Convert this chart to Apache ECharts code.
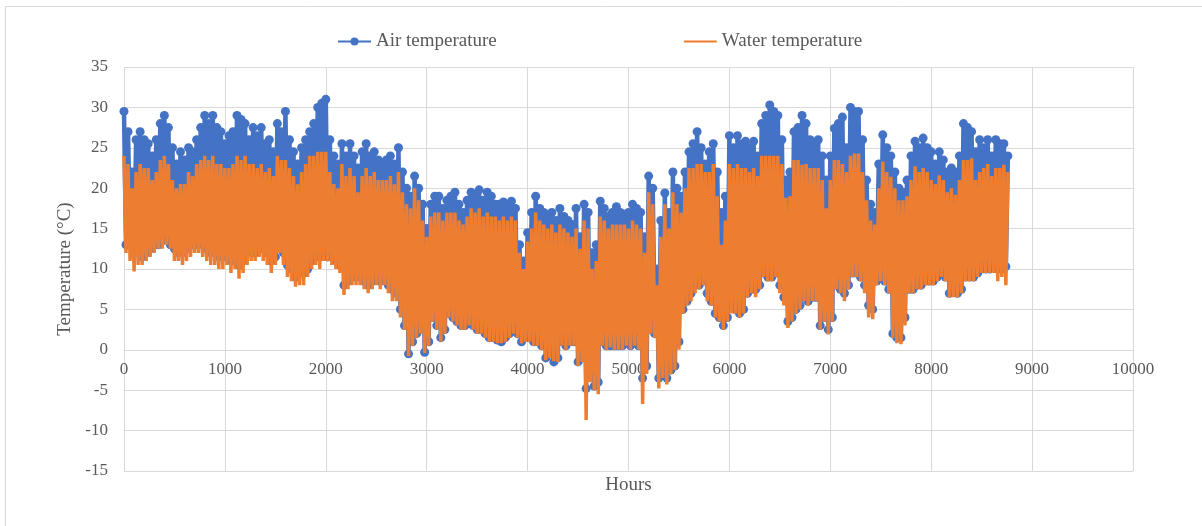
<!DOCTYPE html>
<html>
<head>
<meta charset="utf-8">
<script src="https://cdn.jsdelivr.net/npm/echarts@6/dist/echarts.min.js"></script>
<style>
html,body{margin:0;padding:0;background:#fff;}
#chart{width:1202px;height:526px;}
</style>
</head>
<body>
<div id="chart"></div>
<script>
// Read-off samples, every 20 hours, in 80-hour blocks:
// peaks at 80k, troughs at 80k+20, second peaks at 80k+40, second troughs at 80k+60
const BLOCK_HOURS = 80;
const SUB_STEP = 20;

// ---- Air temperature (°C) ----
const airPeaks = [
  29.5, 22, 27, 25.5, 26, 29, 25, 24.5, 25, 26,
  29, 29, 27, 26.5, 29, 28, 27.5, 27.5, 26, 28,
  29.5, 24.5, 25, 27, 30, 31, 24, 25.5, 25.5, 22.5,
  25.5, 24.5, 23, 24, 25, 20, 21.5, 18, 18, 19,
  18.5, 19.5, 17, 19.5, 19.8, 19.5, 18, 18.3, 18.4, 13,
  14.5, 19, 17, 17, 17.5, 16, 17.5, 18, 12, 18.4,
  16.5, 17.7, 16.7, 18, 17, 21.5, 10, 19.4, 22, 19,
  24.5, 27, 23, 25.5, 17, 26.5, 26.5, 25.8, 25.8, 28,
  30.3, 29, 21, 27, 29, 26, 26, 21, 27.4, 28.8,
  30, 29.5, 21, 17, 26.6, 24, 20, 21, 25.8, 26.2,
  24.5, 24.5, 22, 22, 28, 27, 26, 26, 26, 25.5
];
const airTroughs = [
  13, 12, 11.5, 12.5, 13, 14, 12.5, 12, 13, 13.5,
  12.5, 12, 11.5, 11, 10.5, 12, 12, 12.5, 11, 13,
  10.5, 9, 9.5, 11, 11.5, 11.5, 11, 8, 9, 9,
  8, 9, 9, 7.5, 5, -0.5, 2, -0.3, 4, 1.5,
  4.5, 3.5, 3, 3, 2.5, 1.5, 1.2, 1.5, 2.5, 1,
  1.5, 1, -1, -1.5, 1, 1, -1.5, -4.8, -4.5, 1,
  0.5, 0.5, 1, 1, -3.5, 2.5, -3.5, -3.5, -2, 5,
  7, 8, 7, 4.5, 3, 5.5, 4.5, 7, 7.5, 9.5,
  9, 8, 3.5, 5, 6.5, 6.5, 3, 2.5, 8, 7,
  9.5, 9, 5.5, 8.5, 8.5, 2, 1.5, 7.5, 8, 8.5,
  8.5, 9.5, 7, 7, 9, 9, 10, 10, 10, 10.3
];
const airPeaks2 = [
  27, 26, 26, 24, 28, 27.5, 23, 23.5, 24.5, 27.5,
  28, 27.5, 25.5, 27, 28.5, 26, 26.5, 25.5, 24.5, 27,
  26, 23, 26, 28, 30.5, 26, 23, 24, 24, 24.5,
  24, 23.5, 23.5, 23, 22, 19, 20, 15, 19, 17.5,
  19, 18, 18.5, 19, 18.5, 19, 18, 18, 17.5, 11,
  17, 17.5, 16.5, 16, 16.5, 15.5, 14, 17, 13, 17.5,
  17, 17, 17, 17.5, 14, 20, 16, 17, 20, 22,
  25.5, 25, 24.5, 22, 19, 25, 25.5, 25, 24, 29,
  29.5, 26, 22, 27.5, 28, 25.5, 24, 24, 28, 25,
  29.5, 26, 18, 23, 25, 22, 19.5, 24, 25, 25,
  23, 23.5, 22.5, 24, 27.5, 24.5, 25, 24, 25.5, 24
];
const airTroughs2 = [
  14, 12.5, 12, 13, 13.5, 13, 12, 12.5, 13, 13,
  12, 11.5, 12, 11.5, 11, 12.5, 12.5, 12, 11.5, 12,
  10, 9.5, 10, 11.5, 12, 11.5, 10.5, 8.5, 9, 8.5,
  8.5, 8.5, 8, 7, 3, 1, 2.5, 1, 3, 2.5,
  4, 3, 3.5, 2.5, 2, 1.5, 1, 2, 2, 1.5,
  1, 0.5, -0.5, -1, 0.5, 1, -1, -3, -4, 0.5,
  0.5, 0.5, 0.5, 0.5, -2, 2, -2.5, -2.5, 1, 6,
  8, 8.5, 6, 4, 4, 5, 5, 7.5, 8, 9,
  9.5, 6.5, 4, 5.5, 6, 6.5, 4, 4, 7.5, 8,
  9.5, 8, 5, 9, 7.5, 1.5, 4, 7.5, 8, 8.5,
  9, 9, 7.5, 7.5, 9, 9.5, 10, 10.5, 10
];

// ---- Water temperature (°C) ----
const waterPeaks = [
  24, 20, 23, 22.5, 22, 24, 21, 20.5, 22, 23,
  24, 24, 23, 22.5, 24, 24, 23, 23, 22.5, 24,
  23.5, 21.5, 22, 24, 24.5, 24.5, 20.5, 23, 22.5, 19.5,
  22.5, 22, 21, 21.5, 22, 18, 20, 16, 16.5, 17,
  17, 17, 15.5, 17.5, 17.5, 17, 16.5, 16.5, 16.5, 12,
  13.4, 17, 15.5, 15.5, 15.5, 14.5, 15, 16, 10, 16.5,
  15, 15.5, 15.5, 16, 15, 19.5, 8, 18, 19.5, 17,
  22.5, 23, 22, 23, 13, 23, 23, 22.5, 22.5, 24,
  24, 24, 18.8, 23.5, 22.9, 22.5, 22.5, 17.5, 23.5, 23,
  24, 24.3, 18.5, 15.5, 23.3, 21.4, 18.5, 19, 22.7, 22.5,
  21, 21.6, 19.5, 19.2, 23.5, 23.7, 22, 23, 22.5, 22.9
];
const waterTroughs = [
  12, 9.7, 10.5, 11.5, 12.5, 13, 11, 10.5, 11.5, 12,
  11, 10.5, 10, 9.5, 8.8, 10.5, 11, 11, 9.5, 12,
  9, 7.8, 8, 10, 10, 11, 10, 6.8, 8, 8,
  7, 8, 8, 6, 4, -0.8, 1.5, -0.4, 3.5, 1,
  4, 3, 2.5, 2.5, 2, 1, 0.8, 1, 2, 0.8,
  1, 0.5, -1.3, -1.4, 0.5, 0.5, -2, -8.7, -5, 0.5,
  0.3, 0, 0.5, 0.5, -6.7, 2, -4.8, -4.3, -2.5, 4.5,
  6, 7.5, 6, 4, 2.5, 4.5, 4, 6.5, 6.5, 9,
  8.5, 7, 2.7, 4.5, 6, 6, 2.5, 1.9, 7.5, 6,
  9, 8.5, 4, 8, 8, 1.5, 0.7, 7, 7.5, 8,
  8, 9, 6.5, 6.5, 8.5, 8.5, 9.5, 9.5, 8.5, 8
];
const waterPeaks2 = [
  23, 22, 22.5, 21, 23.5, 23, 20, 20.5, 21.5, 23.5,
  23.5, 23, 22.5, 23, 23.5, 23, 22.5, 22, 21.5, 23.5,
  22.5, 20.5, 23, 24, 24.5, 22, 20, 21.5, 21.5, 21.5,
  21.5, 21, 21, 20.5, 19.5, 17.5, 18.5, 14, 17, 16,
  17, 16, 16.5, 17, 16.5, 16.5, 16, 16, 16, 10,
  15, 16, 15, 14.5, 15, 14, 12.5, 15, 11, 16,
  15.5, 15.5, 15, 15.5, 12, 18, 14, 15, 18, 20,
  22.5, 23, 22, 19, 16, 22.5, 22.5, 22, 21.5, 24,
  24, 23, 19, 23.5, 23, 22.5, 21, 21, 23.5, 22,
  24.3, 22, 16, 20, 22, 20, 18.5, 21, 22, 22,
  20.5, 21, 20, 21, 23.5, 21, 22.5, 21.5, 22.5, 22
];
const waterTroughs2 = [
  11, 10.5, 11, 12, 12.5, 12.5, 11, 11, 12, 11.5,
  10.5, 10, 10.5, 10, 9.5, 11, 11.5, 10.5, 10.5, 10.5,
  8.5, 8, 9, 10.5, 11, 10.5, 9.5, 7.5, 8, 7.5,
  7.5, 7.5, 7, 6, 2.5, 0.5, 2, 0.5, 2.5, 2,
  3.5, 2.5, 3, 2, 1.5, 1, 0.8, 1.5, 1.5, 1,
  0.5, 0, -1, -1.5, 0, 0.5, -1.5, -4, -5.5, 0,
  0, 0, 0, 0, -3, 1.5, -3.5, -3, 0, 5.5,
  7, 8, 5.5, 3.5, 3.5, 4.5, 4.5, 7, 7.5, 8.5,
  9, 5.5, 3.5, 5, 5.5, 6, 3.5, 3.5, 7, 7.5,
  9, 7, 3.8, 8.5, 7, 0.8, 3, 7, 7.5, 8,
  8.5, 8.5, 6.5, 7, 8.5, 9, 9.5, 9.5, 9
];

const xTicks = { min: 0, max: 10000, interval: 1000 };
const yTicks = { min: -15, max: 35, interval: 5 };

// Put the read-off samples in time order: [hour, value]
function buildSeries(p1, t1, p2, t2) {
  const out = [];
  for (let k = 0; k < p1.length; k++) {
    const base = k * BLOCK_HOURS;
    out.push([base, p1[k]]);
    if (k < t1.length) out.push([base + SUB_STEP, t1[k]]);
    if (k < p2.length) out.push([base + 2 * SUB_STEP, p2[k]]);
    if (k < t2.length) out.push([base + 3 * SUB_STEP, t2[k]]);
  }
  return out;
}
const airData = buildSeries(airPeaks, airTroughs, airPeaks2, airTroughs2);
const waterData = buildSeries(waterPeaks, waterTroughs, waterPeaks2, waterTroughs2);

const FONT = "'Liberation Serif', 'Times New Roman', serif";
const TXT = '#595959';
const GRIDC = '#D9D9D9';
const BLUE = '#4472C4';
const ORANGE = '#ED7D31';

const chart = echarts.init(document.getElementById('chart'), null, { renderer: 'canvas' });
chart.setOption({
  animation: false,
  backgroundColor: '#fff',
  textStyle: { fontFamily: FONT },
  graphic: [{
    type: 'rect', left: 3, top: 4, z: -10, silent: true,
    shape: { width: 1210, height: 530 },
    style: { fill: 'none', stroke: '#D9D9D9', lineWidth: 1 }
  }],
  legend: {
    top: 27, left: 332, itemGap: 186, itemWidth: 33, itemHeight: 10,
    textStyle: { fontFamily: FONT, fontSize: 19, color: TXT },
    data: [
      { name: 'Air temperature', lineStyle: { width: 2 } },
      { name: 'Water temperature', itemStyle: { opacity: 0 }, lineStyle: { width: 2 } }
    ]
  },
  grid: { left: 124, right: 69, top: 67, bottom: 55, containLabel: false, outerBoundsMode: 'none' },
  xAxis: {
    type: 'value', min: xTicks.min, max: xTicks.max, interval: xTicks.interval,
    position: 'bottom', offset: -121,
    name: 'Hours', nameLocation: 'middle', nameGap: 126,
    nameTextStyle: { fontFamily: FONT, fontSize: 19, color: TXT },
    axisLine: { onZero: false, lineStyle: { color: GRIDC } },
    axisTick: { show: false },
    axisLabel: { fontFamily: FONT, fontSize: 17, color: TXT, margin: 11,
      formatter: function (v) { return String(v); } },
    splitLine: { show: true, lineStyle: { color: GRIDC, width: 1 } }
  },
  yAxis: {
    type: 'value', min: yTicks.min, max: yTicks.max, interval: yTicks.interval,
    name: 'Temperature (°C)', nameLocation: 'middle', nameGap: 39,
    nameTextStyle: { fontFamily: FONT, fontSize: 19, color: TXT },
    axisLine: { show: false, onZero: false },
    axisTick: { show: false },
    axisLabel: { fontFamily: FONT, fontSize: 17, color: TXT, margin: 16 },
    splitLine: { show: true, lineStyle: { color: GRIDC, width: 1 } }
  },
  series: [
    {
      name: 'Air temperature', type: 'line', data: airData,
      symbol: 'circle', symbolSize: 9, showSymbol: true,
      color: BLUE,
      lineStyle: { color: BLUE, width: 4.5 },
      itemStyle: { color: BLUE },
      z: 2
    },
    {
      name: 'Water temperature', type: 'line', data: waterData,
      symbol: 'none', showSymbol: false,
      color: ORANGE,
      lineStyle: { color: ORANGE, width: 3.5 },
      z: 3
    }
  ]
});
</script>
</body>
</html>
